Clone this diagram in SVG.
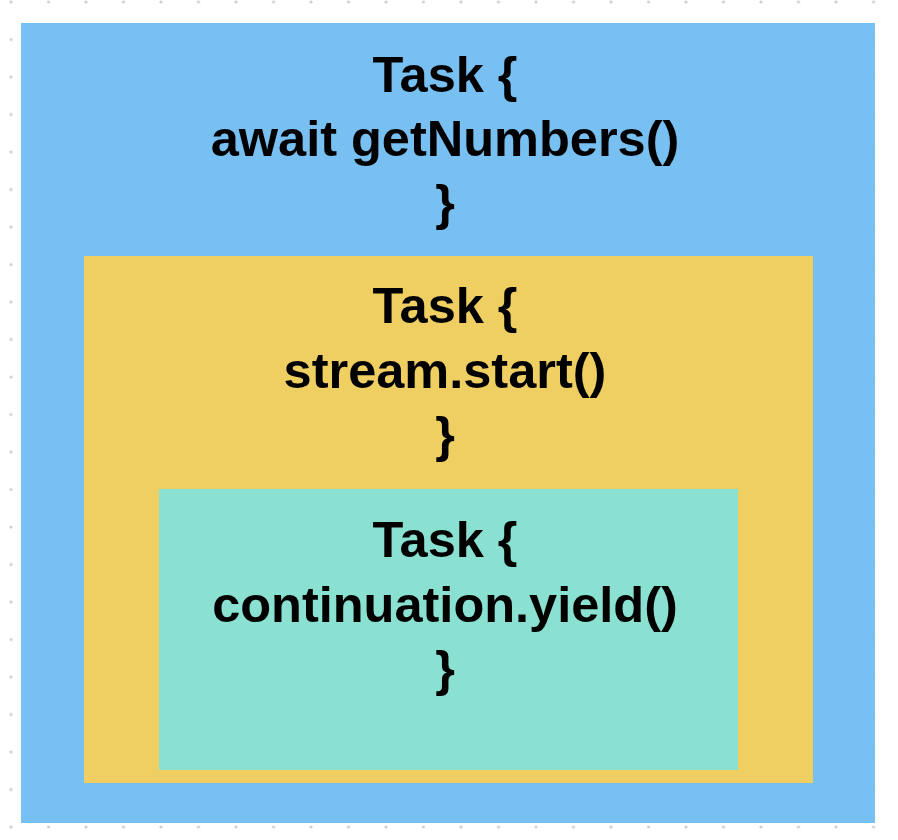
<svg xmlns="http://www.w3.org/2000/svg" width="898" height="840" viewBox="0 0 898 840">
  <defs>
    <pattern id="dots" x="11" y="2" width="37.5" height="37.5" patternUnits="userSpaceOnUse">
      <circle cx="0" cy="0" r="1.6" fill="#cfcfcf"/>
      <circle cx="37.5" cy="0" r="1.6" fill="#cfcfcf"/>
      <circle cx="0" cy="37.5" r="1.6" fill="#cfcfcf"/>
      <circle cx="37.5" cy="37.5" r="1.6" fill="#cfcfcf"/>
    </pattern>
  </defs>
  <style>
    .t { font-family: "Liberation Sans", Arial, sans-serif; font-weight: bold; font-size: 50.5px; fill: #000; text-anchor: middle; }
  </style>
  <rect x="0" y="0" width="898" height="840" fill="#ffffff"/>
  <rect x="0" y="0" width="898" height="840" fill="url(#dots)"/>
  <g id="outer-task">
    <rect x="21" y="23" width="854" height="800" fill="#78bff2"/>
    <text class="t" x="445" y="92">Task {</text>
    <text class="t" x="445" y="156">await getNumbers()</text>
    <text class="t" x="445" y="220">}</text>
  </g>
  <g id="middle-task">
    <rect x="84" y="256" width="729" height="527" fill="#f0cf62"/>
    <text class="t" x="445" y="323">Task {</text>
    <text class="t" x="445" y="388">stream.start()</text>
    <text class="t" x="445" y="452">}</text>
  </g>
  <g id="inner-task">
    <rect x="159" y="489" width="579" height="281" fill="#8ae1d1"/>
    <text class="t" x="445" y="557">Task {</text>
    <text class="t" x="445" y="622">continuation.yield()</text>
    <text class="t" x="445" y="686">}</text>
  </g>
  <g id="connectors"></g>
</svg>
